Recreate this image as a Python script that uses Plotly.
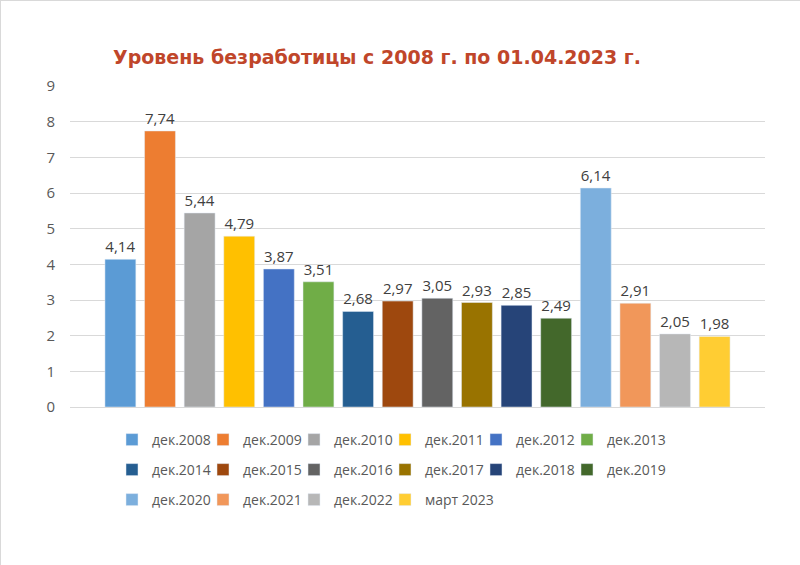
import plotly.graph_objects as go

labels = ["дек.2008", "дек.2009", "дек.2010", "дек.2011", "дек.2012", "дек.2013",
          "дек.2014", "дек.2015", "дек.2016", "дек.2017", "дек.2018", "дек.2019",
          "дек.2020", "дек.2021", "дек.2022", "март 2023"]
values = [4.14, 7.74, 5.44, 4.79, 3.87, 3.51, 2.68, 2.97, 3.05, 2.93, 2.85, 2.49,
          6.14, 2.91, 2.05, 1.98]
colors = ["#5B9BD5", "#ED7D31", "#A5A5A5", "#FFC000", "#4472C4", "#70AD47",
          "#255E91", "#9E480E", "#636363", "#997300", "#264478", "#43682B",
          "#7CAFDD", "#F1975A", "#B7B7B7", "#FFCD33"]
title_text = "Уровень безработицы с 2008 г. по 01.04.2023 г."

W, H = 800, 565
ML, MR, MT, MB = 70, 35, 86, 158
PW, PH = W - ML - MR, H - MT - MB

fig = go.Figure()
legends = {}
for i, (lab, val, col) in enumerate(zip(labels, values, colors)):
    key = "legend" if i == 0 else f"legend{i + 1}"
    fig.add_trace(go.Bar(
        x=[""], y=[val], name=lab, marker_color=col,
        texttemplate="%{y:.2f}", textposition="outside",
        textfont=dict(size=15, color="#404040"),
        cliponaxis=False,
        legend=key,
    ))
    c, r = i % 6, i // 6
    left_px = 151 + c * 91 - 39
    mid_px = 440 + r * 30
    legends[key] = dict(orientation="h", x=(left_px - ML) / PW, xanchor="left",
                        y=(H - MB - mid_px) / PH, yanchor="middle", itemwidth=30,
                        font=dict(family="Open Sans", size=14, color="#595959"),
                        bgcolor="rgba(0,0,0,0)")

fig.update_layout(
    width=W, height=H,
    margin=dict(l=ML, r=MR, t=MT, b=MB),
    paper_bgcolor="white", plot_bgcolor="white",
    font=dict(family="Open Sans, sans-serif", color="#595959"),
    separators=", ",
    barmode="group", bargap=0.088, bargroupgap=0.22,
    title=dict(text="<b>" + title_text + "</b>", x=113 / W, xanchor="left",
               y=1 - 57 / H, yanchor="middle",
               font=dict(family="DejaVu Sans", size=19, color="#C0462A")),
    showlegend=True,
    xaxis=dict(showticklabels=False, showline=True, linecolor="#D9D9D9", linewidth=1),
    yaxis=dict(range=[0, 9], dtick=1, showgrid=True, gridcolor="#D9D9D9", gridwidth=1,
               zeroline=False, tickfont=dict(size=15, color="#595959"),
               ticklabelstandoff=14),
    shapes=[
        dict(type="line", xref="paper", yref="paper",
             x0=-ML / PW, x1=1 + MR / PW, y0=1 + (MT - 0.5) / PH, y1=1 + (MT - 0.5) / PH,
             line=dict(color="#D9D9D9", width=1)),
        dict(type="line", xref="paper", yref="paper",
             x0=-(ML - 0.5) / PW, x1=-(ML - 0.5) / PW, y0=-MB / PH, y1=1 + MT / PH,
             line=dict(color="#D9D9D9", width=1)),
    ],
    **legends,
)

fig.write_html("out.html")
